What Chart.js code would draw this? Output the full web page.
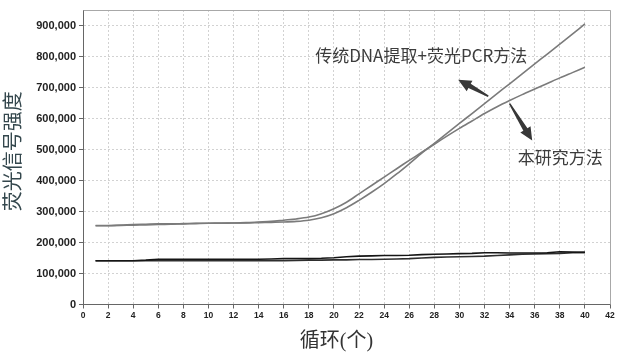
<!DOCTYPE html>
<html><head><meta charset="utf-8">
<script src="https://cdn.jsdelivr.net/npm/chart.js@4/dist/chart.umd.min.js"></script>
<style>html,body{margin:0;padding:0;background:#fff}#wrap{width:622px;height:357px}</style>
</head><body><div id="wrap"><canvas id="c" width="622" height="357"></canvas></div>
<script>
const cycles = [1,2,3,4,5,6,7,8,9,10,11,12,13,14,15,16,17,18,19,20,21,22,23,24,25,26,27,28,29,30,31,32,33,34,35,36,37,38,39,40];
const traditional = [254000,254000,255000,256000,257000,258000,259000,260000,261000,262000,262000,263000,263000,264000,265000,266000,268000,272000,280000,293000,312000,336000,362000,390000,421000,454000,488000,520000,552000,584000,616000,648000,680000,712000,744000,776000,808000,840000,872000,905000];
const thisStudy = [255000,255000,256000,258000,259000,260000,260000,261000,262000,262000,263000,263000,264000,266000,268000,272000,276000,282000,293000,309000,330000,357000,384000,411000,438000,465000,491000,517000,543000,568000,592000,616000,638000,658000,677000,695000,713000,731000,748000,765000];
const controlA = [141000,141000,141000,141000,143000,146000,146000,146000,146000,146000,146000,146000,146000,146000,147000,148000,148000,148000,149000,151000,154000,156000,157000,158000,158000,159000,161000,162000,163000,164000,165000,167000,167000,166000,166000,166000,167000,170000,169000,168000];
const controlB = [141000,141000,141000,141000,141000,141000,141000,141000,141000,141000,141000,141000,141000,141000,141000,141000,142000,143000,143000,144000,144000,145000,145000,146000,147000,148000,150000,152000,153000,154000,155000,156000,158000,160000,162000,163000,164000,165000,167000,168000];
const yTickValues = [0,100000,200000,300000,400000,500000,600000,700000,800000,900000];
const yTitle = '荧光信号强度';
const xTitle = '循环(个)';
const label1 = '传统DNA提取+荧光PCR方法';
const label2 = '本研究方法';
// annotation anchors in data units [cycle, value]
const label1Pos = [18.5, 802000];
const label2Pos = [34.65, 474000];
const arrow1 = [[32.3, 672000], [29.9, 725000]];
const arrow2 = [[34.0, 648000], [35.8, 529000]];

const toXY = arr => arr.map((v, i) => ({x: cycles[i], y: v}));

const annot = {
  id: 'annot',
  afterDraw(chart) {
    const {ctx, chartArea: a, scales: {x, y}} = chart;
    ctx.save();
    ctx.strokeStyle = '#a8a8a8'; ctx.lineWidth = 1;
    ctx.beginPath();
    ctx.moveTo(Math.round(a.left) + 0.5, Math.round(a.top) + 0.5);
    ctx.lineTo(Math.round(a.right) + 0.5, Math.round(a.top) + 0.5);
    ctx.lineTo(Math.round(a.right) + 0.5, a.bottom);
    ctx.stroke();
    ctx.fillStyle = '#3c3c3c';
    ctx.font = '17px "Noto Sans CJK SC", "Noto Sans", sans-serif';
    ctx.textBaseline = 'middle'; ctx.textAlign = 'left';
    ctx.fillText(label1, x.getPixelForValue(label1Pos[0]), y.getPixelForValue(label1Pos[1]));
    ctx.fillText(label2, x.getPixelForValue(label2Pos[0]), y.getPixelForValue(label2Pos[1]));
    const drawArrow = (p, q) => {
      const x1 = x.getPixelForValue(p[0]), y1 = y.getPixelForValue(p[1]);
      const x2 = x.getPixelForValue(q[0]), y2 = y.getPixelForValue(q[1]);
      const dx = x2 - x1, dy = y2 - y1, L = Math.hypot(dx, dy);
      const ux = dx / L, uy = dy / L, nx = -uy, ny = ux;
      const hl = 13, hw = 6, tw = 0.8, bw = 2.4;
      const bx = x2 - ux * hl, by = y2 - uy * hl;
      ctx.beginPath();
      ctx.moveTo(x1 + nx * tw, y1 + ny * tw);
      ctx.lineTo(bx + nx * bw, by + ny * bw);
      ctx.lineTo(bx + nx * hw, by + ny * hw);
      ctx.lineTo(x2, y2);
      ctx.lineTo(bx - nx * hw, by - ny * hw);
      ctx.lineTo(bx - nx * bw, by - ny * bw);
      ctx.lineTo(x1 - nx * tw, y1 - ny * tw);
      ctx.closePath();
      ctx.fillStyle = '#383838';
      ctx.fill();
    };
    drawArrow(arrow1[0], arrow1[1]);
    drawArrow(arrow2[0], arrow2[1]);
    ctx.fillStyle = '#34474d';
    ctx.font = '20px "Liberation Serif", "Noto Sans CJK SC", serif';
    ctx.textAlign = 'center'; ctx.textBaseline = 'middle';
    ctx.save();
    ctx.translate(15, (a.top + a.bottom) / 2 - 6);
    ctx.rotate(-Math.PI / 2);
    ctx.fillText(yTitle, 0, 0);
    ctx.restore();
    ctx.fillStyle = '#333';
    ctx.fillText(xTitle, (a.left + a.right) / 2 - 10, a.bottom + 37);
    ctx.restore();
  }
};

new Chart(document.getElementById('c'), {
  type: 'line',
  data: {
    datasets: [
      {data: toXY(traditional), borderColor: '#7b7b7b', borderWidth: 1.6, pointRadius: 0, tension: 0.3},
      {data: toXY(thisStudy), borderColor: '#7b7b7b', borderWidth: 1.6, pointRadius: 0, tension: 0.3},
      {data: toXY(controlA), borderColor: '#151515', borderWidth: 1.6, pointRadius: 0, tension: 0},
      {data: toXY(controlB), borderColor: '#2e2e2e', borderWidth: 1.6, pointRadius: 0, tension: 0}
    ]
  },
  options: {
    responsive: false,
    animation: false,
    events: [],
    layout: {padding: {left: 4, top: 10, right: 12, bottom: 4}},
    plugins: {legend: {display: false}, tooltip: {enabled: false}},
    scales: {
      x: {
        type: 'linear', min: 0, max: 42,
        ticks: {stepSize: 2, autoSkip: false, maxRotation: 0, padding: 2,
                color: '#222', font: {family: '"Liberation Sans", Arial, sans-serif', size: 8.5, weight: 'bold'}},
        grid: {color: '#d2d2d2', lineWidth: 1, tickLength: 4, tickColor: '#666', tickBorderDash: []},
        border: {display: true, color: '#666', width: 1, dash: [2, 2]},
        afterFit(s) { s.height = 48.5; }
      },
      y: {
        min: 0, max: 950000,
        ticks: {autoSkip: false, padding: 3,
                color: '#222', font: {family: '"Liberation Sans", Arial, sans-serif', size: 11, weight: 'bold'},
                callback: v => v.toLocaleString('en-US')},
        afterBuildTicks(s) { s.ticks = yTickValues.map(v => ({value: v})); },
        grid: {color: '#d2d2d2', lineWidth: 1, tickLength: 4, tickColor: '#666', tickBorderDash: []},
        border: {display: true, color: '#666', width: 1, dash: [2, 2]},
        afterFit(s) { s.width = 79; }
      }
    }
  },
  plugins: [annot]
});
</script>
</body></html>
